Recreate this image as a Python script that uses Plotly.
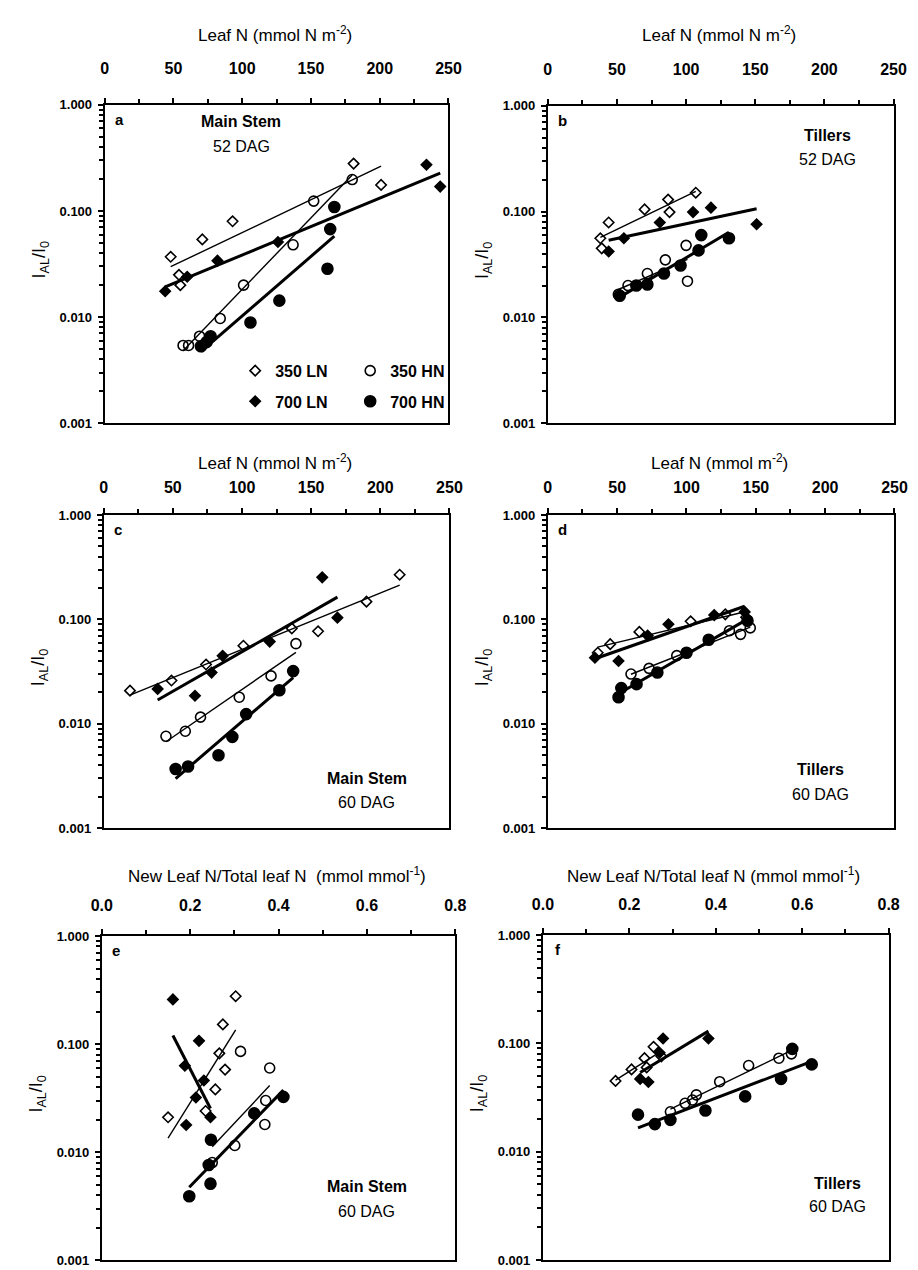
import numpy as np
import plotly.graph_objects as go

W, H = 918, 1270

# ---------------- data ----------------
# Panel a: Main Stem 52 DAG (x: Leaf N, mmol N m-2)
a_350LN_x = [48, 54, 55, 71, 93, 181, 201]
a_350LN_y = [0.037, 0.025, 0.020, 0.054, 0.080, 0.28, 0.176]
a_350HN_x = [57, 61, 69, 84, 101, 137, 152, 180]
a_350HN_y = [0.0054, 0.0054, 0.0066, 0.0097, 0.020, 0.048, 0.124, 0.198]
a_700LN_x = [44, 60, 82, 126, 234, 244]
a_700LN_y = [0.0175, 0.024, 0.034, 0.051, 0.273, 0.170]
a_700HN_x = [70, 74, 77, 106, 127, 162, 164, 167]
a_700HN_y = [0.0053, 0.0058, 0.0066, 0.0089, 0.0143, 0.0285, 0.0675, 0.109]

# Panel b: Tillers 52 DAG
b_350LN_x = [38, 39, 44, 70, 87, 88, 107]
b_350LN_y = [0.056, 0.045, 0.079, 0.105, 0.130, 0.099, 0.151]
b_350HN_x = [51, 58, 72, 85, 100, 101]
b_350HN_y = [0.0165, 0.020, 0.026, 0.035, 0.048, 0.022]
b_700LN_x = [44, 55, 81, 105, 118, 151]
b_700LN_y = [0.042, 0.056, 0.079, 0.099, 0.109, 0.076]
b_700HN_x = [52, 64, 72, 84, 96, 109, 111, 131]
b_700HN_y = [0.016, 0.020, 0.0205, 0.026, 0.031, 0.043, 0.060, 0.056]

# Panel c: Main Stem 60 DAG
c_350LN_x = [19, 49, 74, 101, 136, 155, 190, 214]
c_350LN_y = [0.0208, 0.026, 0.037, 0.056, 0.082, 0.077, 0.148, 0.268]
c_350HN_x = [45, 59, 70, 98, 121, 139]
c_350HN_y = [0.0076, 0.0085, 0.0116, 0.018, 0.0288, 0.0586]
c_700LN_x = [39, 66, 78, 86, 120, 158, 169]
c_700LN_y = [0.0216, 0.0186, 0.031, 0.0448, 0.0614, 0.253, 0.104]
c_700HN_x = [52, 61, 83, 93, 103, 127, 137]
c_700HN_y = [0.0037, 0.0039, 0.0050, 0.0075, 0.0124, 0.021, 0.032]

# Panel d: Tillers 60 DAG
d_350LN_x = [36, 45, 66, 103, 128, 143]
d_350LN_y = [0.048, 0.058, 0.076, 0.096, 0.112, 0.105]
d_350HN_x = [60, 73, 93, 131, 139, 146]
d_350HN_y = [0.030, 0.034, 0.045, 0.078, 0.072, 0.083]
d_700LN_x = [34, 51, 72, 87, 120, 142]
d_700LN_y = [0.043, 0.040, 0.070, 0.090, 0.110, 0.118]
d_700HN_x = [51, 53, 64, 79, 100, 116, 144]
d_700HN_y = [0.018, 0.022, 0.024, 0.031, 0.048, 0.064, 0.097]

# Panel e: Main Stem 60 DAG (x: New leaf N / total leaf N)
e_350LN_x = [0.150, 0.235, 0.257, 0.266, 0.274, 0.279, 0.303]
e_350LN_y = [0.021, 0.024, 0.038, 0.082, 0.152, 0.058, 0.277]
e_350HN_x = [0.250, 0.301, 0.314, 0.369, 0.371, 0.380]
e_350HN_y = [0.008, 0.0115, 0.0855, 0.018, 0.030, 0.060]
e_700LN_x = [0.161, 0.188, 0.191, 0.213, 0.220, 0.231, 0.246]
e_700LN_y = [0.259, 0.063, 0.0178, 0.032, 0.107, 0.046, 0.021]
e_700HN_x = [0.198, 0.242, 0.246, 0.247, 0.345, 0.411]
e_700HN_y = [0.0039, 0.0076, 0.0051, 0.013, 0.0228, 0.0324]

# Panel f: Tillers 60 DAG
f_350LN_x = [0.168, 0.205, 0.235, 0.240, 0.256, 0.274]
f_350LN_y = [0.045, 0.0575, 0.073, 0.060, 0.093, 0.076]
f_350HN_x = [0.295, 0.329, 0.346, 0.355, 0.409, 0.476, 0.546, 0.575]
f_350HN_y = [0.0234, 0.028, 0.030, 0.0335, 0.0443, 0.0625, 0.073, 0.080]
f_700LN_x = [0.225, 0.244, 0.270, 0.278, 0.383]
f_700LN_y = [0.047, 0.044, 0.082, 0.111, 0.111]
f_700HN_x = [0.220, 0.259, 0.295, 0.376, 0.468, 0.551, 0.577, 0.622]
f_700HN_y = [0.022, 0.018, 0.0197, 0.024, 0.0324, 0.047, 0.089, 0.064]

series_names = ["350 LN", "350 HN", "700 LN", "700 HN"]
panel_letters = ["a", "b", "c", "d", "e", "f"]
panel_labels = [("Main Stem", "52 DAG"), ("Tillers", "52 DAG"),
                ("Main Stem", "60 DAG"), ("Tillers", "60 DAG"),
                ("Main Stem", "60 DAG"), ("Tillers", "60 DAG")]
x_titles = ["Leaf N (mmol N m<sup>-2</sup>)", "Leaf N (mmol N m<sup>-2</sup>)",
            "Leaf N (mmol N m<sup>-2</sup>)", "Leaf N (mmol m<sup>-2</sup>)",
            "New Leaf N/Total leaf N  (mmol mmol<sup>-1</sup>)",
            "New Leaf N/Total leaf N (mmol mmol<sup>-1</sup>)"]
leafN_ticks = [0, 50, 100, 150, 200, 250]
ratio_ticks = [0.0, 0.2, 0.4, 0.6, 0.8]
ratio_ticktext = ["0.0", "0.2", "0.4", "0.6", "0.8"]
y_decades = [0.001, 0.01, 0.1, 1.0]
y_decade_text = ["0.001", "0.010", "0.100", "1.000"]

data = {
    "a": [(a_350LN_x, a_350LN_y), (a_350HN_x, a_350HN_y), (a_700LN_x, a_700LN_y), (a_700HN_x, a_700HN_y)],
    "b": [(b_350LN_x, b_350LN_y), (b_350HN_x, b_350HN_y), (b_700LN_x, b_700LN_y), (b_700HN_x, b_700HN_y)],
    "c": [(c_350LN_x, c_350LN_y), (c_350HN_x, c_350HN_y), (c_700LN_x, c_700LN_y), (c_700HN_x, c_700HN_y)],
    "d": [(d_350LN_x, d_350LN_y), (d_350HN_x, d_350HN_y), (d_700LN_x, d_700LN_y), (d_700HN_x, d_700HN_y)],
    "e": [(e_350LN_x, e_350LN_y), (e_350HN_x, e_350HN_y), (e_700LN_x, e_700LN_y), (e_700HN_x, e_700HN_y)],
    "f": [(f_350LN_x, f_350LN_y), (f_350HN_x, f_350HN_y), (f_700LN_x, f_700LN_y), (f_700HN_x, f_700HN_y)],
}

# ---------------- layout geometry (pixels) ----------------
panel_px = {  # x0, x1, ytop, ybottom
    "a": (88, 441, 91, 413),
    "b": (543, 898, 92, 413),
    "c": (87, 442, 506, 823),
    "d": (543, 899, 506, 823),
    "e": (85, 448, 932, 1260),
    "f": (538, 893, 931, 1260),
}
row_title_y = {"a": 19, "b": 19, "c": 452, "d": 452, "e": 870, "f": 870}
tick_standoff = {"a": 18, "b": 18, "c": 9, "d": 9, "e": 12, "f": 12}

def px(x):
    return x / W

def py(y):
    return 1 - y / H

FONT = "Liberation Sans, Arial, sans-serif"
symbols = ["diamond-open", "circle-open", "diamond", "circle"]
msizes = [8, 10, 8, 11]
lwidths = [1.4, 1.4, 3.0, 3.0]

fig = go.Figure()
layout = {}
annotations = []

y_minor_vals = []
for dec in [0.001, 0.01, 0.1]:
    for k in range(2, 10):
        y_minor_vals.append(round(dec * k, 6))

for i, key in enumerate(panel_letters):
    n = i + 1
    xs = "" if n == 1 else str(n)
    x0, x1, yt, yb = panel_px[key]
    is_ratio = key in ("e", "f")
    xaxis = dict(
        domain=[px(x0), px(x1)], anchor="y" + xs, side="top",
        range=[0, 0.8] if is_ratio else [0, 250],
        tickvals=ratio_ticks if is_ratio else leafN_ticks,
        ticktext=ratio_ticktext if is_ratio else [str(t) for t in leafN_ticks],
        ticks="outside", ticklen=5, tickwidth=1.5, tickcolor="black",
        minor=dict(dtick=0.1 if is_ratio else 25, ticks="outside", ticklen=4,
                   tickwidth=1.5, tickcolor="black", showgrid=False),
        showline=True, linecolor="black", linewidth=2, mirror=True,
        showgrid=False, zeroline=False,
        tickfont=dict(family=FONT, size=16, color="black", weight="bold"),
        ticklabelstandoff=tick_standoff[key],
    )
    yaxis = dict(
        domain=[py(yb), py(yt)], anchor="x" + xs, type="log",
        range=[-3, 0], tickvals=y_decades, ticktext=y_decade_text,
        ticks="outside", ticklen=5, tickwidth=1.5, tickcolor="black",
        minor=dict(tickmode="array", tickvals=y_minor_vals, ticks="outside",
                   ticklen=4, tickwidth=1.5, tickcolor="black", showgrid=False),
        showline=True, linecolor="black", linewidth=2, mirror=True,
        showgrid=False, zeroline=False,
        tickfont=dict(family=FONT, size=13, color="black", weight="bold"),
        ticklabelstandoff=3,
    )
    layout["xaxis" + xs] = xaxis
    layout["yaxis" + xs] = yaxis

    for s, (sx, sy) in enumerate(data[key]):
        sx = np.array(sx, dtype=float)
        sy = np.array(sy, dtype=float)
        # regression line (log-linear fit)
        coef = np.polyfit(sx, np.log10(sy), 1)
        lx = np.array([sx.min(), sx.max()])
        ly = 10 ** np.polyval(coef, lx)
        fig.add_trace(go.Scatter(
            x=lx, y=ly, mode="lines", xaxis="x" + xs, yaxis="y" + xs,
            line=dict(color="black", width=lwidths[s]), showlegend=False,
            hoverinfo="skip"))
    for s, (sx, sy) in enumerate(data[key]):
        show = key == "a"
        leg = "legend" if s in (0, 1) else "legend2"
        fig.add_trace(go.Scatter(
            x=sx, y=sy, mode="markers", xaxis="x" + xs, yaxis="y" + xs,
            name=series_names[s], showlegend=show, legend=leg,
            marker=dict(symbol=symbols[s], size=msizes[s], color="black",
                        line=dict(color="black", width=1.6))))

    # panel letter
    annotations.append(dict(text=key, x=px(x0 + 15), y=py(yt + 15), xref="paper", yref="paper",
                            showarrow=False, xanchor="center", yanchor="middle",
                            font=dict(family=FONT, size=15, color="black", weight="bold")))
    # x axis title
    annotations.append(dict(text=x_titles[i], x=px((x0 + x1) / 2 - 2), y=py(row_title_y[key]),
                            xref="paper", yref="paper", showarrow=False,
                            xanchor="center", yanchor="middle",
                            font=dict(family=FONT, size=17, color="black")))
    # y axis title
    annotations.append(dict(text="I<sub>AL</sub>/I<sub>0</sub>", x=px(x0 - 66), y=py((yt + yb) / 2 - 4),
                            xref="paper", yref="paper", showarrow=False, textangle=-90,
                            xanchor="center", yanchor="middle",
                            font=dict(family=FONT, size=18, color="black")))

# panel descriptive labels (pixel positions)
label_pos = {"a": (228, 108, 133), "b": (830, 122, 146), "c": (357, 773, 797),
             "d": (823, 764, 789), "e": (357, 1185, 1211), "f": (840, 1182, 1206)}
for i, key in enumerate(panel_letters):
    lx, l1, l2 = label_pos[key]
    annotations.append(dict(text=panel_labels[i][0], x=px(lx), y=py(l1), xref="paper", yref="paper",
                            showarrow=False, xanchor="center", yanchor="middle",
                            font=dict(family=FONT, size=16, color="black", weight="bold")))
    annotations.append(dict(text=panel_labels[i][1], x=px(lx), y=py(l2), xref="paper", yref="paper",
                            showarrow=False, xanchor="center", yanchor="middle",
                            font=dict(family=FONT, size=16, color="black")))

legend_common = dict(orientation="h", xanchor="left", yanchor="middle",
                     bgcolor="rgba(0,0,0,0)", borderwidth=0,
                     font=dict(family=FONT, size=16, color="black", weight="bold"),
                     itemwidth=30, entrywidth=70, entrywidthmode="pixels",
                     tracegroupgap=0)
layout["legend"] = dict(legend_common, x=px(222), y=py(360))
layout["legend2"] = dict(legend_common, x=px(222), y=py(391))

fig.update_layout(
    width=W, height=H, margin=dict(l=0, r=0, t=0, b=0),
    paper_bgcolor="white", plot_bgcolor="white",
    annotations=annotations, **layout)

fig.write_html("out.html")
